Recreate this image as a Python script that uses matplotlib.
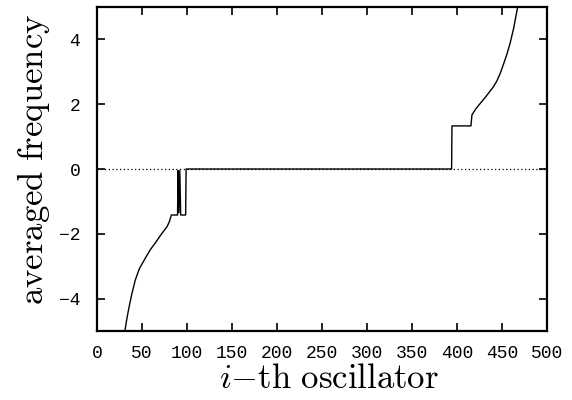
import matplotlib
matplotlib.use("Agg")
import matplotlib.pyplot as plt

plt.rcParams["mathtext.fontset"] = "cm"

# averaged frequency of each oscillator
osc_index = [31, 33, 35, 38.5, 42.5, 47, 53.7, 59, 64.8, 71, 77.8, 80.5, 82.6,
             89.5, 90, 91, 92, 93, 98.5, 99,
             394, 394.4, 415.5, 416.6, 421, 426, 430.5, 435, 440, 444, 448, 452,
             455.5, 459, 463, 466.7, 467.5]
avg_freq = [-5.0, -4.65, -4.35, -3.88, -3.43, -3.08, -2.75, -2.5, -2.28, -2.03, -1.78, -1.62, -1.42,
            -1.42, -0.05, -1.35, -0.05, -1.42, -1.42, 0.0,
            0.0, 1.33, 1.33, 1.67, 1.86, 2.03, 2.18, 2.34, 2.52, 2.7, 2.95, 3.26,
            3.55, 3.88, 4.35, 4.9, 5.0]

xticks = [0, 50, 100, 150, 200, 250, 300, 350, 400, 450, 500]
yticks = [-4, -2, 0, 2, 4]

fig = plt.figure(figsize=(5.72, 4.0), dpi=100)
ax = fig.add_axes([97 / 572, 1 - 331 / 400, 450 / 572, 324 / 400])

ax.plot([0, 500], [0, 0], color="black", linestyle=(0, (1, 2)), linewidth=0.9)
ax.plot(osc_index, avg_freq, color="black", linewidth=1.0)

ax.set_xlim(0, 500)
ax.set_ylim(-5, 5)
ax.set_xticks(xticks)
ax.set_yticks(yticks)
ax.tick_params(direction="in", top=True, right=True, length=6, width=1.2,
               labelsize=13)
ax.tick_params(axis="x", pad=10)
ax.tick_params(axis="y", pad=12)
for lab in ax.get_xticklabels() + ax.get_yticklabels():
    lab.set_family("Liberation Mono")
for s in ax.spines.values():
    s.set_linewidth(1.6)

ax.set_xlabel(r"$i\mathrm{-th\ oscillator}$", fontsize=25)
ax.set_ylabel(r"$\mathrm{averaged\ frequency}$", fontsize=25)
ax.xaxis.set_label_coords(0.516, -0.093)
ax.yaxis.set_label_coords(-0.1, 0.53)

fig.savefig("out.png", dpi=100)
